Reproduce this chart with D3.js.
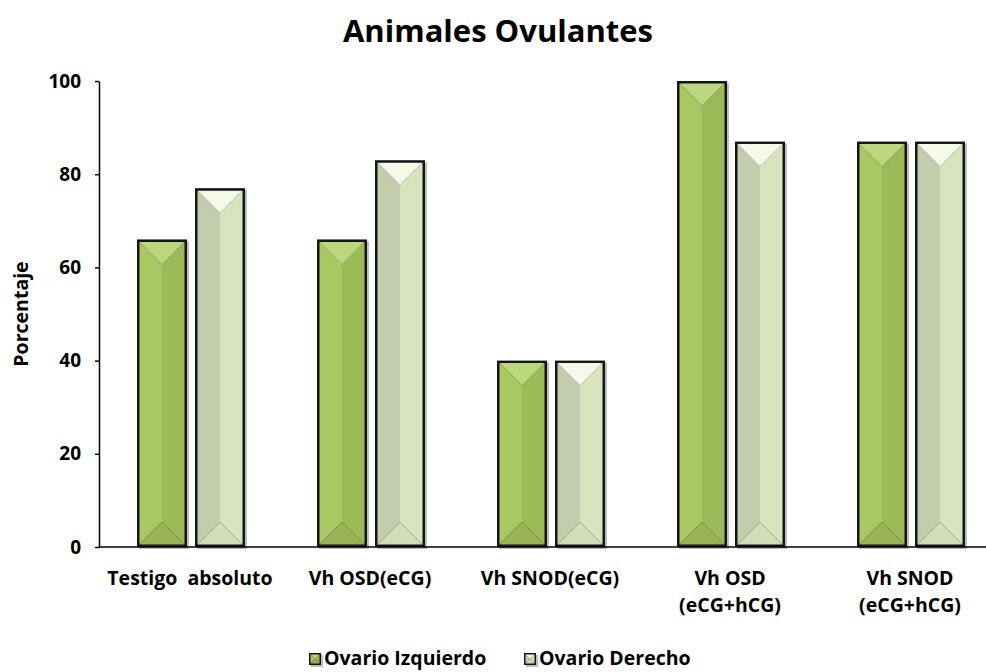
<!DOCTYPE html>
<html>
<head>
<meta charset="utf-8">
<script src="https://cdn.jsdelivr.net/npm/d3@7"></script>
<style>
  body { margin: 0; background: #fff; }
  text { font-family: "Open Sans", Lato, sans-serif; font-weight: bold; fill: #000; }
</style>
</head>
<body>
<div class="container"></div>
<script>
var categories = [['Testigo  absoluto'], ['Vh OSD(eCG)'], ['Vh SNOD(eCG)'], ['Vh OSD', '(eCG+hCG)'], ['Vh SNOD', '(eCG+hCG)']],
	series = ['Ovario Izquierdo', 'Ovario Derecho'],
	izquierdo = [66, 66, 40, 100, 87],
	derecho = [77, 83, 40, 87, 87],
	yTicks = [0, 20, 40, 60, 80, 100];

var WIDTH = 986,
	HEIGHT = 672,
	LEFT = 100,
	TOP = 81,
	BOTTOM = 547;

// face colours: top, left, right, bottom
var faces = {
	'Ovario Izquierdo': ['#bcd87e', '#a9c864', '#9bbb59', '#97b456'],
	'Ovario Derecho': ['#f5f9e8', '#c4ccae', '#d8e4be', '#d1dcb8']
};

function translate(x, y) {
	return 'translate(' + x + ',' + y + ')';
}

function bevelBar(g, x, y, w, h, cols, border) {
	g.append('rect')
		.attr('x', x + 2).attr('y', y + 2)
		.attr('width', w).attr('height', h)
		.attr('fill', '#bdbdbd');
	g.append('rect')
		.attr('x', x).attr('y', y)
		.attr('width', w).attr('height', h)
		.attr('fill', '#151515');
	var x0 = x + border, y0 = y + border,
		x1 = x + w - border, y1 = y + h - border,
		b = Math.min((x1 - x0) / 2, (y1 - y0) / 2);
	var polys = [
		[[x0, y0], [x1, y0], [x1 - b, y0 + b], [x0 + b, y0 + b]],
		[[x0, y0], [x0 + b, y0 + b], [x0 + b, y1 - b], [x0, y1]],
		[[x1, y0], [x1, y1], [x1 - b, y1 - b], [x1 - b, y0 + b]],
		[[x0, y1], [x0 + b, y1 - b], [x1 - b, y1 - b], [x1, y1]]
	];
	g.append('rect')
		.attr('x', x0 + b).attr('y', y0 + b)
		.attr('width', Math.max(0, x1 - x0 - 2 * b)).attr('height', Math.max(0, y1 - y0 - 2 * b))
		.attr('fill', cols[1]);
	[1, 2, 0, 3].forEach(function(i) {
		g.append('polygon')
			.attr('points', polys[i].map(function(p) { return p.join(','); }).join(' '))
			.attr('fill', cols[i]);
	});
}

var svg = d3.select('.container').append('svg')
	.attr('width', WIDTH)
	.attr('height', HEIGHT);

var xScale = d3.scaleBand()
	.domain(d3.range(categories.length))
	.range([LEFT, LEFT + 900]);

var xInner = d3.scaleBand()
	.domain(series)
	.range([37, 145])
	.paddingInner(0.138);

var yScale = d3.scaleLinear()
	.domain([0, 100])
	.range([BOTTOM, TOP]);

svg.append('text')
	.attr('x', 498).attr('y', 42)
	.attr('text-anchor', 'middle')
	.style('font-size', '31px')
	.text('Animales Ovulantes');

svg.append('text')
	.attr('transform', translate(28, (TOP + BOTTOM) / 2) + ' rotate(-90)')
	.attr('text-anchor', 'middle')
	.style('font-size', '19.5px')
	.text('Porcentaje');

var barGroup = svg.append('g');
var values = { 'Ovario Izquierdo': izquierdo, 'Ovario Derecho': derecho };

series.forEach(function(s) {
	values[s].forEach(function(v, i) {
		var x = xScale(i) + xInner(s),
			y = yScale(v);
		bevelBar(barGroup.append('g'), x, y, xInner.bandwidth(), BOTTOM - y, faces[s], 2.5);
	});
});

var yAxis = d3.axisLeft(yScale)
	.tickValues(yTicks)
	.tickSize(4)
	.tickSizeOuter(0)
	.tickPadding(14);

var yAxisGroup = svg.append('g')
	.attr('transform', translate(LEFT - 1, 0))
	.call(yAxis);
yAxisGroup.selectAll('text').style('font-size', '19px');

var xAxis = d3.axisBottom(xScale)
	.tickSize(0)
	.tickSizeOuter(0)
	.tickFormat('');

var xAxisGroup = svg.append('g')
	.attr('transform', translate(0, BOTTOM))
	.call(xAxis);
xAxisGroup.select('.domain').attr('d', 'M' + (LEFT - 1) + ',0H' + WIDTH);

xAxisGroup.selectAll('.tick').each(function(d) {
	var t = d3.select(this).select('text')
		.attr('y', 38)
		.attr('dy', null)
		.style('font-size', '19.5px')
		.style('white-space', 'pre');
	categories[d].forEach(function(line, j) {
		t.append('tspan').attr('x', 0).attr('dy', j ? 27 : 0).text(line);
	});
});

svg.selectAll('.domain, .tick line')
	.attr('stroke', '#000')
	.attr('stroke-width', 1.5);

var legend = svg.append('g');
var legendX = [309, 524];
series.forEach(function(s, i) {
	bevelBar(legend.append('g'), legendX[i], 653, 12, 12, faces[s], 1.5);
	legend.append('text')
		.attr('x', legendX[i] + 15).attr('y', 665)
		.style('font-size', '19.5px')
		.text(s);
});
</script>
</body>
</html>
